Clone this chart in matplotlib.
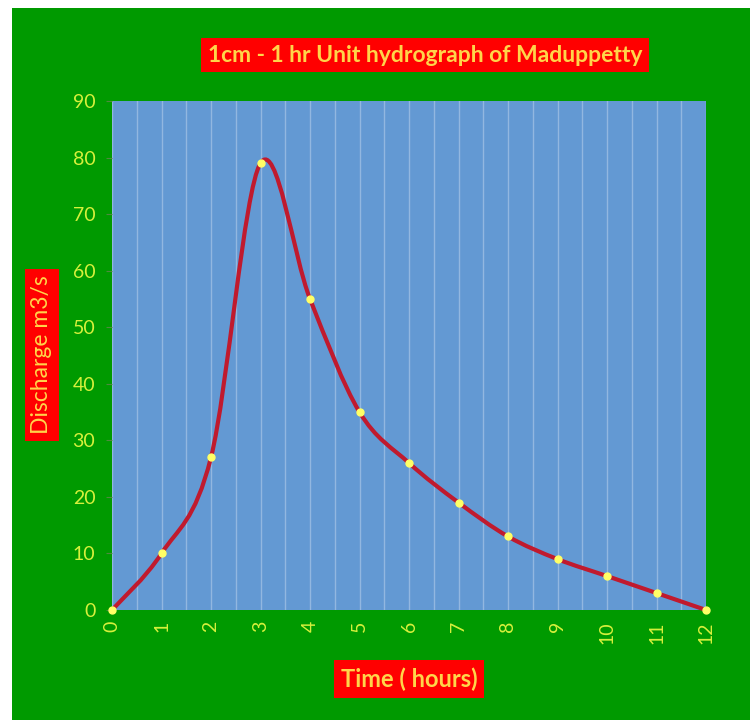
import numpy as np
import matplotlib
matplotlib.use("Agg")
import matplotlib.pyplot as plt
from matplotlib.path import Path
from matplotlib.patches import PathPatch, Rectangle

# data
time_h = [0, 1, 2, 3, 4, 5, 6, 7, 8, 9, 10, 11, 12]
discharge = [0, 10, 27, 79, 55, 35, 26, 19, 13, 9, 6, 3, 0]

green = '#009a00'
plot_bg = '#6399d3'
box_red = '#ff0000'
label_col = '#ffd54a'
tick_col = '#d6f03c'
line_col = '#c01a2e'
marker_col = '#ffff66'

plt.rcParams['font.family'] = ['Lato', 'DejaVu Sans']

fig = plt.figure(figsize=(7.5, 7.2), dpi=100)
fig.patch.set_facecolor('white')
# green chart area
fig.patches.append(Rectangle((12 / 750, 0), 1, 1 - 8 / 720, transform=fig.transFigure,
                             facecolor=green, edgecolor='none', zorder=-5))

ax = fig.add_axes([112 / 750, 110 / 720, 594 / 750, 509 / 720])
ax.set_zorder(2)
ax.set_facecolor(plot_bg)
for s in ax.spines.values():
    s.set_visible(False)

ax.set_xlim(0, 12)
ax.set_ylim(0, 90)
ax.set_xticks(range(0, 13))
ax.set_yticks(range(0, 91, 10))
ax.set_xticks(np.arange(0, 12.01, 0.5), minor=True)
ax.grid(which='minor', axis='x', color='white', alpha=0.3, linewidth=1)
ax.grid(which='major', axis='x', color='white', alpha=0.3, linewidth=1)
ax.tick_params(axis='x', which='both', length=0, colors=tick_col, labelsize=14,
               labelrotation=90, pad=8)
ax.tick_params(axis='y', length=4, color='#4f8a3f', labelcolor=tick_col, labelsize=14, pad=8)

# excel-like smoothed line: cubic bezier through the points
pts = np.column_stack([time_h, discharge]).astype(float)
verts = [pts[0]]
codes = [Path.MOVETO]
n = len(pts)
for i in range(n - 1):
    p0 = pts[i - 1] if i > 0 else pts[i]
    p1 = pts[i]
    p2 = pts[i + 1]
    p3 = pts[i + 2] if i + 2 < n else pts[i + 1]
    c1 = p1 + (p2 - p0) / 6
    c2 = p2 - (p3 - p1) / 6
    verts += [c1, c2, p2]
    codes += [Path.CURVE4] * 3
curve = PathPatch(Path(verts, codes), facecolor='none', edgecolor=line_col,
                  linewidth=3, zorder=3, clip_on=False)
ax.add_patch(curve)
ax.plot(time_h, discharge, linestyle='none', marker='o', markersize=5,
        markerfacecolor=marker_col, markeredgecolor=marker_col, zorder=4, clip_on=False)

fig.text(425 / 750, 1 - 55 / 720, '1cm - 1 hr Unit hydrograph of Maduppetty',
         ha='center', va='center', fontsize=16.5, fontweight='bold', color=label_col,
         bbox=dict(boxstyle='square,pad=0.3', facecolor=box_red, edgecolor='none'))
fig.text(42 / 750, 1 - 355 / 720, 'Discharge m3/s', rotation=90,
         ha='center', va='center', fontsize=16.5, color=label_col,
         bbox=dict(boxstyle='square,pad=0.3', facecolor=box_red, edgecolor='none'))
fig.text(409 / 750, 1 - 679 / 720, 'Time ( hours)',
         ha='center', va='center', fontsize=17, fontweight='bold', color=label_col,
         bbox=dict(boxstyle='square,pad=0.3', facecolor=box_red, edgecolor='none'))

fig.savefig('out.png', dpi=100, facecolor=fig.get_facecolor())
